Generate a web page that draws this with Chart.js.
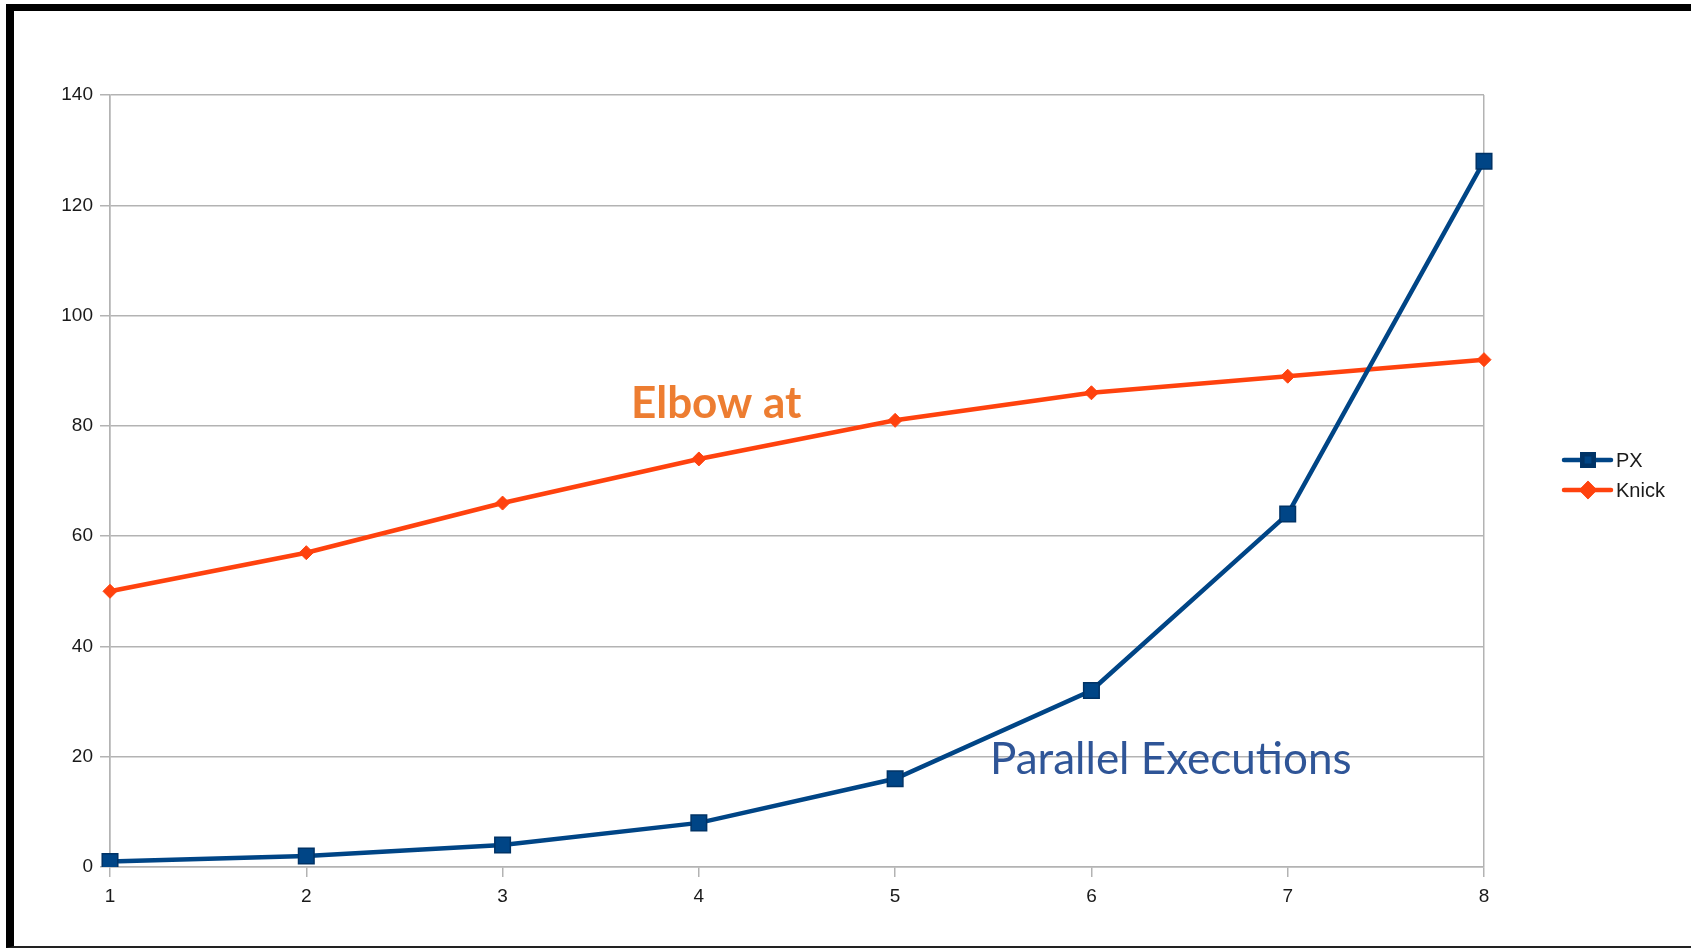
<!DOCTYPE html>
<html>
<head>
<meta charset="utf-8">
<script src="https://cdn.jsdelivr.net/npm/chart.js@4/dist/chart.umd.min.js"></script>
<style>
  html, body { margin: 0; padding: 0; background: #fff; overflow: hidden; }
  #wrap { position: relative; width: 1691px; height: 950px; }
  #frame {
    position: absolute; left: 6px; top: 4px; width: 1700px; height: 944px;
    border-top: 7px solid #000; border-left: 8px solid #000; border-bottom: 2px solid #222;
    box-sizing: border-box; pointer-events: none;
  }
</style>
</head>
<body>
<div id="wrap">
  <canvas id="c" width="1691" height="950"></canvas>
  <div id="frame"></div>
</div>
<script>
// Categories (degree of parallelism) and the two series
const categories = ['1', '2', '3', '4', '5', '6', '7', '8'];
const pxValues = [1, 2, 4, 8, 16, 32, 64, 128];
const knickValues = [50, 57, 66, 74, 81, 86, 89, 92];
const yTicks = [0, 20, 40, 60, 80, 100, 120, 140];

const BLUE = '#004586';
const ORANGE = '#ff420e';
const GRID = '#b3b3b3';
const AXIS_FONT = { family: 'Liberation Sans, Arial, sans-serif', size: 19 };

// Legend at the right, drawn with each dataset's own style
const sideLegend = {
  id: 'sideLegend',
  afterDraw(chart) {
    const ctx = chart.ctx;
    const rows = [460, 490];
    chart.data.datasets.forEach((ds, i) => {
      const y = rows[i];
      ctx.save();
      ctx.strokeStyle = ds.borderColor;
      ctx.lineWidth = 4.5;
      ctx.lineCap = 'round';
      ctx.beginPath();
      ctx.moveTo(1564, y);
      ctx.lineTo(1611, y);
      ctx.stroke();
      Chart.helpers.drawPoint(ctx, {
        pointStyle: ds.pointStyle,
        radius: ds.pointStyle === 'rect' ? 8 : 6,
        borderWidth: 1
      }, 1588, y);
      ctx.fillStyle = ds.pointBackgroundColor;
      ctx.strokeStyle = ds.pointBorderColor;
      ctx.fill();
      ctx.stroke();
      ctx.fillStyle = '#1a1a1a';
      ctx.font = '20px "Liberation Sans", Arial, sans-serif';
      ctx.textBaseline = 'middle';
      ctx.fillText(ds.label, 1616, y + 1);
      ctx.restore();
    });
  }
};

// Callout texts on the plot
const callouts = {
  id: 'callouts',
  afterDraw(chart) {
    const ctx = chart.ctx;
    ctx.save();
    ctx.textBaseline = 'alphabetic';
    ctx.fillStyle = '#ed7d31';
    ctx.font = 'bold 44px Lato, "Open Sans", sans-serif';
    ctx.fillText('Elbow at', 631, 418);
    ctx.fillStyle = '#2f5597';
    ctx.font = '44px Lato, "Open Sans", sans-serif';
    ctx.fillText('Parallel Executions', 990, 774);
    ctx.restore();
  }
};

new Chart(document.getElementById('c'), {
  type: 'line',
  data: {
    labels: categories,
    datasets: [
      {
        label: 'PX',
        data: pxValues,
        borderColor: BLUE,
        backgroundColor: BLUE,
        pointBackgroundColor: BLUE,
        pointBorderColor: '#003366',
        borderWidth: 4.5,
        pointStyle: 'rect',
        pointRadius: 11,
        pointBorderWidth: 1.5,
        tension: 0
      },
      {
        label: 'Knick',
        data: knickValues,
        borderColor: ORANGE,
        backgroundColor: ORANGE,
        pointBackgroundColor: ORANGE,
        pointBorderColor: ORANGE,
        borderWidth: 4.5,
        pointStyle: 'rectRot',
        pointRadius: 7,
        pointBorderWidth: 1,
        tension: 0
      }
    ]
  },
  options: {
    responsive: false,
    animation: false,
    events: [],
    layout: { padding: { left: 0, top: 95, right: 207, bottom: 0 } },
    plugins: { legend: { display: false }, tooltip: { enabled: false } },
    scales: {
      x: {
        type: 'category',
        offset: false,
        grid: {
          color: (c) => (c.index === 0 || c.index === categories.length - 1) ? GRID : 'rgba(0,0,0,0)',
          tickColor: GRID,
          tickLength: 10,
          lineWidth: 1.5
        },
        border: { display: true, color: GRID, width: 1.5 },
        ticks: { color: '#1a1a1a', font: AXIS_FONT, padding: 8, maxRotation: 0 },
        afterFit(scale) { scale.height = 83; }
      },
      y: {
        min: 0,
        max: 140,
        afterBuildTicks(scale) { scale.ticks = yTicks.map(v => ({ value: v })); },
        grid: { color: GRID, tickColor: GRID, tickLength: 10, lineWidth: 1.5 },
        border: { display: true, color: GRID, width: 1.5 },
        ticks: { color: '#1a1a1a', font: AXIS_FONT, padding: 7 },
        afterFit(scale) { scale.width = 110; }
      }
    }
  },
  plugins: [sideLegend, callouts]
});
</script>
</body>
</html>
